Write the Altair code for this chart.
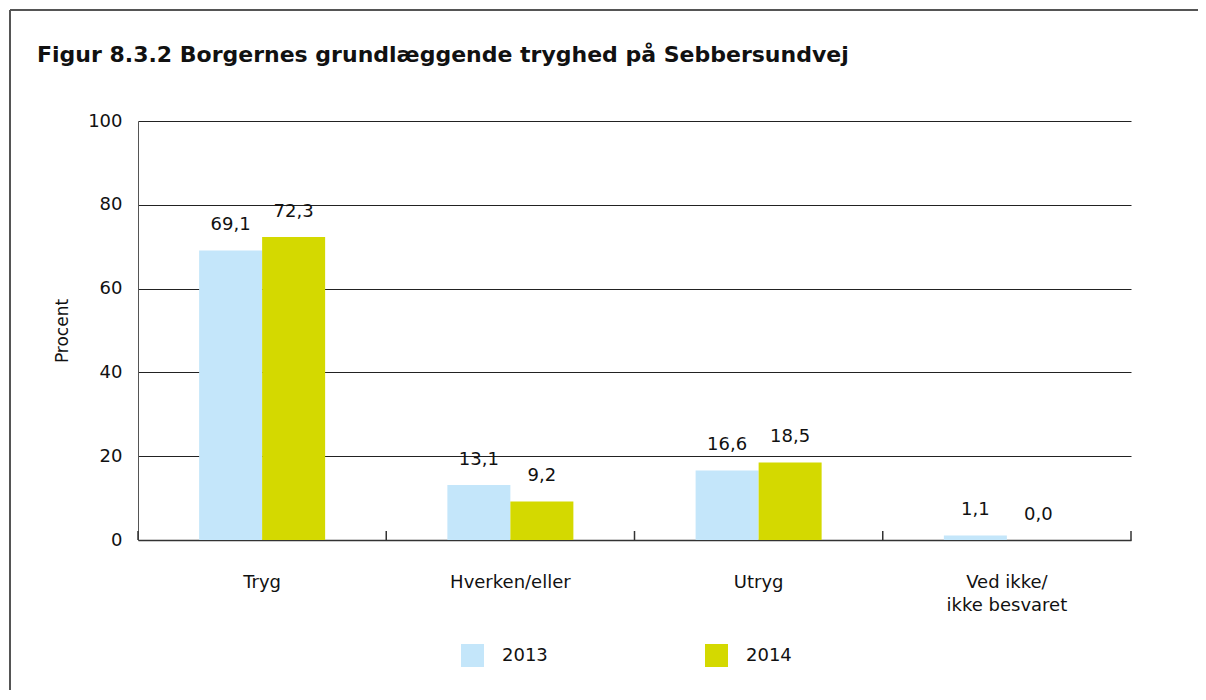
import altair as alt
import pandas as pd

categories = ["Tryg", "Hverken/eller", "Utryg", "Ved ikke/ ikke besvaret"]
years = ["2013", "2014"]
v2013 = [69.1, 13.1, 16.6, 1.1]
v2014 = [72.3, 9.2, 18.5, 0.0]
colors = ["#C4E6FA", "#D4D900"]
title_text = "Figur 8.3.2  Borgernes grundlæggende tryghed på Sebbersundvej"

rows = []
for c, a, b in zip(categories, v2013, v2014):
    rows.append({"cat": c, "year": "2013", "value": a})
    rows.append({"cat": c, "year": "2014", "value": b})
df = pd.DataFrame(rows)

W, H = 993, 419
FONT = "DejaVu Sans"

xenc = alt.X("cat:N", sort=categories,
             scale=alt.Scale(paddingInner=0, paddingOuter=0),
             axis=alt.Axis(title=None, labelFontSize=18, labelColor="#111", labelFont=FONT,
                           labelPadding=33, ticks=False, domainColor="#333", domainWidth=1.5,
                           labelAngle=0, labelLimit=300, labelLineHeight=23,
                           labelExpr="datum.label == 'Ved ikke/ ikke besvaret' ? ['Ved ikke/', 'ikke besvaret'] : datum.label"))
xoff = alt.XOffset("year:N", sort=years, scale=alt.Scale(paddingOuter=0.97, paddingInner=0))

base = alt.Chart(df)

bars = base.mark_bar().encode(
    x=xenc,
    xOffset=xoff,
    y=alt.Y("value:Q", scale=alt.Scale(domain=[0, 100]),
            axis=alt.Axis(title="Procent", values=[0, 20, 40, 60, 80, 100], grid=True,
                          gridColor="#222", gridWidth=1, ticks=False, domainColor="#555",
                          labelFontSize=18, labelFont=FONT, labelColor="#111", labelPadding=16,
                          titleFontSize=17, titleFont=FONT, titleFontWeight="normal",
                          titleColor="#111", titlePadding=16)),
    color=alt.Color("year:N", sort=years, scale=alt.Scale(domain=years, range=colors),
                    legend=alt.Legend(title=None, orient="none", legendX=323, legendY=523,
                                      direction="horizontal", symbolType="square",
                                      symbolSize=529, symbolStrokeWidth=0, symbolOpacity=1,
                                      labelFontSize=18, labelFont=FONT, labelColor="#111",
                                      labelOffset=18, columnPadding=157)),
)

labels = base.mark_text(baseline="bottom", dy=-16, fontSize=18, font=FONT, color="#111").encode(
    x=alt.X("cat:N", sort=categories),
    xOffset=xoff,
    y=alt.Y("value:Q"),
    text=alt.Text("label:N"),
).transform_calculate(label="replace(format(datum.value, '.1f'), '.', ',')")

ticks = alt.Chart(pd.DataFrame({"cat": categories})).mark_rule(color="#333", strokeWidth=1.5).encode(
    x=alt.X("cat:N", sort=categories, bandPosition=0),
    y=alt.value(H - 9), y2=alt.value(H),
)
end_tick = alt.Chart(pd.DataFrame({"cat": [categories[-1]]})).mark_rule(color="#333", strokeWidth=1.5).encode(
    x=alt.value(W), y=alt.value(H - 9), y2=alt.value(H),
)

frame_left = alt.Chart(pd.DataFrame({"k": [0]})).mark_rule(color="#555", strokeWidth=2).encode(
    x=alt.value(-128), y=alt.value(-111), y2=alt.value(700),
)
frame_top = alt.Chart(pd.DataFrame({"k": [0]})).mark_rule(color="#555", strokeWidth=2).encode(
    x=alt.value(-128), x2=alt.value(1200), y=alt.value(-111),
)
title = alt.Chart(pd.DataFrame({"t": [title_text]})).mark_text(
    align="left", baseline="alphabetic", fontSize=22, font=FONT, fontWeight="bold", color="#111"
).encode(x=alt.value(-101), y=alt.value(-59), text="t:N")

chart = alt.layer(bars, labels, ticks, end_tick, frame_left, frame_top, title).properties(
    width=W, height=H,
    autosize=alt.AutoSizeParams(type="none"),
    padding={"left": 130, "top": 113, "right": 67, "bottom": 150},
).configure_view(stroke=None)

chart.save("out.html", embed_options={"renderer": "svg", "actions": False})
